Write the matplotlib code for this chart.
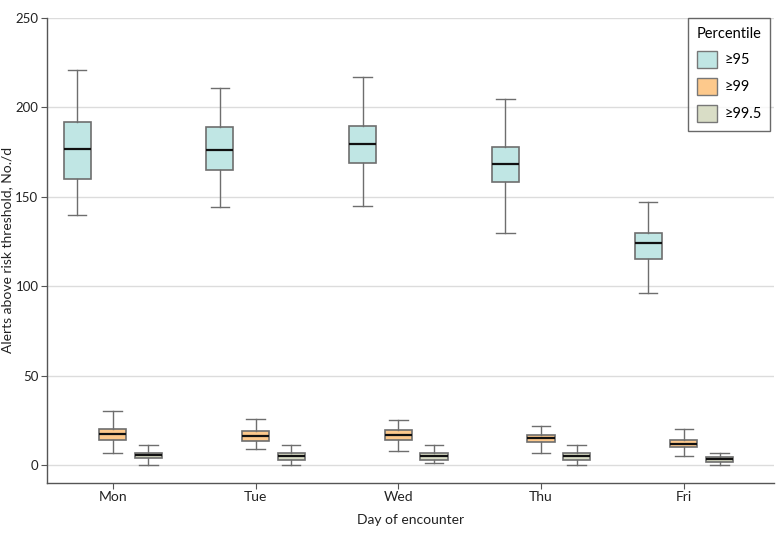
import matplotlib
matplotlib.use('Agg')
import matplotlib.pyplot as plt
from matplotlib.patches import Patch

days = ['Mon', 'Tue', 'Wed', 'Thu', 'Fri']
series = ['≥95', '≥99', '≥99.5']
colors = ['#c0e6e4', '#fdc98c', '#d9ddc6']

# per series: lower whisker, q1, median, q3, upper whisker (one value per day)
p95_lo = [140, 144, 145, 130, 96]
p95_q1 = [160, 165, 169, 158, 115]
p95_med = [176.5, 176, 179.5, 168.5, 124]
p95_q3 = [192, 189, 189.5, 178, 130]
p95_hi = [221, 210.5, 217, 204.5, 147]

p99_lo = [7, 9, 8, 7, 5]
p99_q1 = [14, 13.5, 14, 13, 10]
p99_med = [17.5, 16, 17, 15, 11.7]
p99_q3 = [20, 19, 19.5, 17, 14]
p99_hi = [30, 26, 25, 22, 20]

p995_lo = [0, 0, 1, 0, 0]
p995_q1 = [4, 3, 3, 3, 2]
p995_med = [5.5, 5, 5, 5, 3.2]
p995_q3 = [7, 7, 6.5, 7, 4.3]
p995_hi = [11, 11, 11, 11, 7]

data = [
    (p95_lo, p95_q1, p95_med, p95_q3, p95_hi),
    (p99_lo, p99_q1, p99_med, p99_q3, p99_hi),
    (p995_lo, p995_q1, p995_med, p995_q3, p995_hi),
]

plt.rcParams['font.family'] = ['Lato', 'DejaVu Sans']
fig = plt.figure(figsize=(7.8, 5.4), dpi=100)
ax = fig.add_axes([0.060, 0.1056, 0.932, 0.8614])

offsets = [-0.25, 0.0, 0.25]
for k, (lo, q1, med, q3, hi) in enumerate(data):
    stats = []
    for i in range(len(days)):
        stats.append({'whislo': lo[i], 'q1': q1[i], 'med': med[i],
                      'q3': q3[i], 'whishi': hi[i], 'fliers': []})
    pos = [i + offsets[k] for i in range(len(days))]
    ax.bxp(stats, positions=pos, widths=0.19, patch_artist=True,
           showfliers=False, manage_ticks=False,
           boxprops=dict(facecolor=colors[k], edgecolor='#6e6e6e', linewidth=1.2),
           medianprops=dict(color='#111111', linewidth=1.6),
           whiskerprops=dict(color='#6e6e6e', linewidth=1.0),
           capprops=dict(color='#6e6e6e', linewidth=1.0),
           capwidths=0.13)

ax.set_xlim(-0.462, 4.63)
ax.set_ylim(-10, 250)
ax.set_xticks(range(len(days)))
ax.set_xticklabels(days)
ax.set_yticks([0, 50, 100, 150, 200, 250])
ax.yaxis.grid(True, color='#dcdcdc', linewidth=1.0)
ax.set_axisbelow(True)
for s in ['top', 'right']:
    ax.spines[s].set_visible(False)
for s in ['left', 'bottom']:
    ax.spines[s].set_color('#555555')
    ax.spines[s].set_linewidth(1.0)
ax.tick_params(axis='both', colors='#555555', labelcolor='#222222',
               labelsize=10, length=4, pad=2)
ax.tick_params(axis='y', labelsize=9.5)
ax.set_xlabel('Day of encounter', fontsize=10, color='#222222', labelpad=8)
ax.set_ylabel('Alerts above risk threshold, No./d', fontsize=10,
              color='#222222')
ax.yaxis.set_label_coords(-0.046, 0.5)

handles = [Patch(facecolor=c, edgecolor='#777777', label=l)
           for c, l in zip(colors, series)]
leg = ax.legend(handles=handles, title='Percentile', loc='upper right',
                bbox_to_anchor=(0.997, 0.98), bbox_transform=fig.transFigure,
                fontsize=10.5, title_fontsize=10.5, frameon=True, fancybox=False,
                edgecolor='#444444', handlelength=1.4, handleheight=1.4,
                borderpad=0.6, labelspacing=0.7, handletextpad=0.5)
leg.get_frame().set_linewidth(1.0)
leg._legend_box.align = 'left'

fig.savefig('out.png', dpi=100)
